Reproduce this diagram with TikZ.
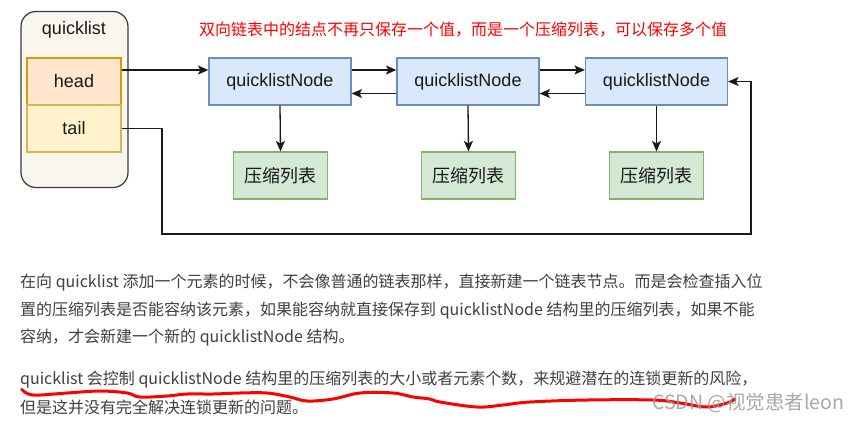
\documentclass[tikz,border=0pt]{standalone}
\usepackage{fontspec}
\setmainfont{Liberation Sans}
\newfontfamily\cjk{Noto Sans CJK SC}
\usetikzlibrary{arrows.meta}
\definecolor{nodefill}{HTML}{DAE8FC}
\definecolor{nodedraw}{HTML}{6C8EBF}
\definecolor{zlfill}{HTML}{D5E8D4}
\definecolor{zldraw}{HTML}{82B366}
\definecolor{headfill}{HTML}{FFE6CC}
\definecolor{headdraw}{HTML}{D79B00}
\definecolor{tailfill}{HTML}{FFF2CC}
\definecolor{taildraw}{HTML}{D6B656}
\definecolor{qlfill}{HTML}{F9F7ED}
\definecolor{qldraw}{HTML}{36393D}
\definecolor{bodytext}{HTML}{404040}
\definecolor{wmark}{HTML}{9A9A9A}
\tikzset{
  qlnode/.style={draw=nodedraw, fill=nodefill, minimum width=142pt, minimum height=47pt, inner sep=0pt, line width=1.2pt, text=black!90, font=\fontsize{18}{18}\selectfont},
  zlnode/.style={draw=zldraw, fill=zlfill, minimum width=94pt, minimum height=47pt, inner sep=0pt, line width=1.2pt, text=black!90, font=\cjk\fontsize{18}{18}\selectfont},
  fieldbox/.style={minimum width=94pt, minimum height=47pt, inner sep=0pt, line width=1.2pt, text=black!90, font=\fontsize{18}{18}\selectfont},
  conn/.style={line width=1.3pt, draw=black!90, -{Stealth[length=10.5pt,width=9pt,inset=2.5pt]}},
  bodyline/.style={anchor=west, inner sep=0pt, text=bodytext, font=\cjk\fontsize{16}{16}\selectfont},
}
\begin{document}
\begin{tikzpicture}[x=1pt,y=-1pt]
\useasboundingbox (0,0) rectangle (858,421);
\fill[white] (0,0) rectangle (858,421);
% quicklist container
\node[draw=qldraw, fill=qlfill, line width=1.2pt, rounded corners=15pt, minimum width=107pt, minimum height=176pt, inner sep=0pt] (ql) at (74.5,99.5) {};
\node[inner sep=0pt, text=black!90, font=\fontsize{18}{18}\selectfont] (qltitle) at (74,30) {quicklist};
\node[fieldbox, draw=headdraw, fill=headfill] (head) at (74,81.5) {head};
\node[fieldbox, draw=taildraw, fill=tailfill] (tail) at (74,128.5) {tail};
% red note
\node[anchor=west, inner sep=0pt, text=red, font=\cjk\fontsize{16}{16}\selectfont] (note) at (199,30) {双向链表中的结点不再只保存一个值，而是一个压缩列表，可以保存多个值};
% quicklist nodes
\node[qlnode] (n1) at (280,81.5) {quicklistNode};
\node[qlnode] (n2) at (468,81.5) {quicklistNode};
\node[qlnode] (n3) at (656.5,81.5) {quicklistNode};
% ziplists
\node[zlnode] (z1) at (280.5,175.5) {压缩列表};
\node[zlnode] (z2) at (468.5,175.5) {压缩列表};
\node[zlnode] (z3) at (656.5,175.5) {压缩列表};
% connectors
\draw[conn] ([yshift=11.5pt]head.east) -- ([yshift=11.5pt]n1.west);
\draw[conn] ([yshift=11.5pt]n1.east) -- ([yshift=11.5pt]n2.west);
\draw[conn] ([yshift=-12pt]n2.west) -- ([yshift=-12pt]n1.east);
\draw[conn] ([yshift=11.5pt]n2.east) -- ([yshift=11.5pt]n3.west);
\draw[conn] ([yshift=-12pt]n3.west) -- ([yshift=-12pt]n2.east);
\draw[conn] (n1.south) -- (z1.north);
\draw[conn] (n2.south) -- (z2.north);
\draw[conn] (n3.south) -- (z3.north);
\coordinate (t1) at (162,128.5);
\coordinate (t2) at (162,234);
\coordinate (t3) at (751,234);
\coordinate (t4) at (751,81.5);
\draw[conn] (tail.east) -- (t1) -- (t2) -- (t3) -- (t4) -- (n3.east);
% body text
\node[bodyline] (p1) at (20,283) {在向 quicklist 添加一个元素的时候，不会像普通的链表那样，直接新建一个链表节点。而是会检查插入位};
\node[bodyline] (p2) at (20,311) {置的压缩列表是否能容纳该元素，如果能容纳就直接保存到 quicklistNode 结构里的压缩列表，如果不能};
\node[bodyline] (p3) at (20,338) {容纳，才会新建一个新的 quicklistNode 结构。};
\node[bodyline] (p4) at (20,380) {quicklist 会控制 quicklistNode 结构里的压缩列表的大小或者元素个数，来规避潜在的连锁更新的风险，};
\node[bodyline] (p5) at (20,407) {但是这并没有完全解决连锁更新的问题。};
% red hand-drawn underline
\draw[red, line width=3pt, line cap=round, line join=round] plot[smooth, tension=0.6] coordinates {
 (21.7,389.3) (33,395) (67,393) (100,391) (127,393) (140,397) (167,396) (187,394) (213,394) (240,393) (267,393) (290,397) (307,401) (333,399) (360,393) (393,393) (413,397) (430,399) (440,402) (477,407) (503,405) (530,402) (587,400) (653,400) (680,403) (707,407) (727,403) (735,399)};
% watermark
\node[anchor=west, inner sep=0pt, text=wmark, opacity=0.85, font=\cjk\fontsize{19.5}{19.5}\selectfont] (wm) at (652,403) {CSDN @视觉患者leon};
\end{tikzpicture}
\end{document}
